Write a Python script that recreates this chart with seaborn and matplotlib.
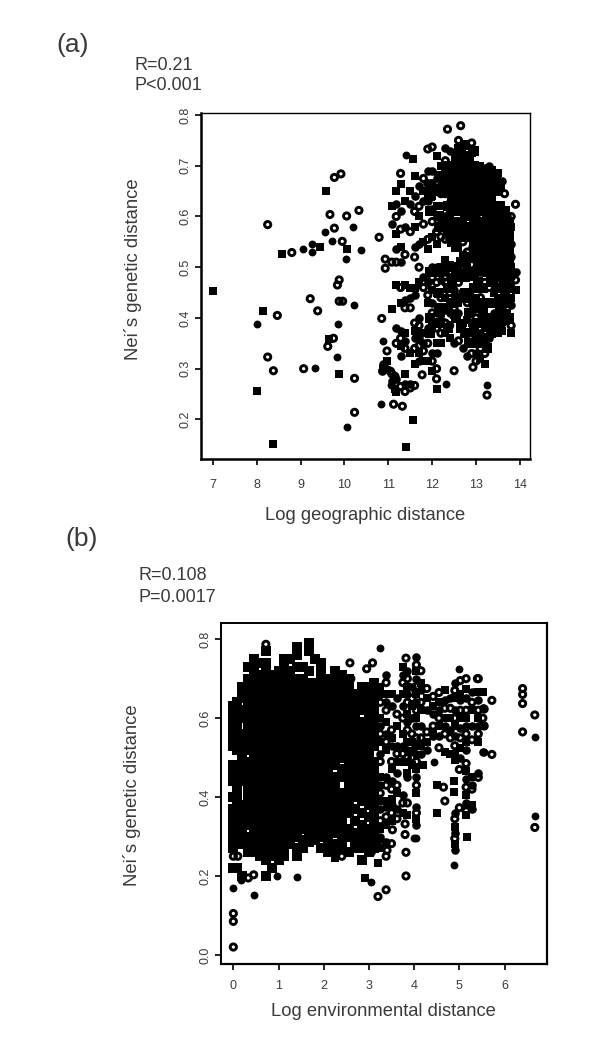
import matplotlib
matplotlib.use("Agg")
import matplotlib.pyplot as plt
import pandas as pd
import seaborn as sns

sns.set_style("white")
plt.rcParams["font.family"] = ["Liberation Sans", "DejaVu Sans"]

# ---------- panel (a): isolated points ----------
a_square_x = [7.0, 8.15, 8.0, 8.38, 8.57, 9.57, 9.87, 9.65, 11.57, 11.4, 11.57, 10.05, 9.45, 11.15, 12.1, 12.0]
a_square_y = [.454, .413, .257, .151, .526, .651, .289, .359, .199, .145, .713, .535, .540, .26, .26, .295]
a_solid_x = [8.0, 9.32, 9.05, 9.27, 9.27, 9.55, 9.72, 10.2, 10.37, 10.04, 9.85, 9.83, 10.21, 10.05, 10.83, 11.4, 12.32, 13.25, 10.87, 11.05]
a_solid_y = [.388, .302, .536, .545, .531, .570, .551, .579, .533, .517, .388, .324, .426, .185, .231, .722, .27, .268, .355, .268]
a_open_x = [8.25, 8.47, 8.25, 8.38, 8.8, 9.07, 9.22, 9.39, 9.62, 9.75, 9.84, 9.88, 9.88, 9.96, 9.77, 9.92, 9.67, 10.05, 10.33, 9.77, 9.95,
            10.23, 10.23, 10.79, 10.93, 10.93, 10.85, 11.12, 11.32, 13.25, 12.65, 12.35, 12.0, 11.9, 13.9, 13.65, 11.77, 12.93, 12.5, 12.1, 11.6, 11.05, 11.15]
a_open_y = [.584, .405, .323, .296, .529, .3, .438, .414, .344, .36, .465, .475, .433, .433, .677, .684, .604, .601, .612, .577, .551,
            .281, .214, .559, .516, .498, .399, .23, .226, .248, .779, .772, .737, .733, .624, .645, .288, .303, .296, .28, .267, .295, .285]

# ---------- panel (a): dense cloud, one list per x position ----------
a_col_x = [10.87, 10.97, 11.08, 11.18, 11.28, 11.38, 11.5, 11.6, 11.7, 11.8, 11.9, 12.0, 12.1, 12.2, 12.3, 12.4,
           12.5, 12.6, 12.7, 12.8, 12.9, 13.0, 13.1, 13.2, 13.3, 13.4, 13.5, 13.6, 13.7, 13.8, 13.9]
a_col_y = [
    [.30, .31, .295],
    [.315, .30, .335],
    [.62, .585, .51, .418, .275, .29],
    [.65, .625, .60, .565, .535, .51, .465, .38, .35, .255, .28],
    [.685, .665, .61, .575, .54, .51, .46, .43, .375, .36, .345, .325, .265],
    [.63, .58, .525, .465, .435, .42, .37, .355, .34, .29, .27, .255],
    [.65, .625, .57, .46, .44, .42, .33, .27, .262],
    [.68, .64, .61, .58, .54, .52, .46, .445, .39, .375, .36, .34, .31],
    [.66, .62, .60, .545, .50, .47, .40, .385, .37, .36, .345, .33, .315],
    [.675, .65, .63, .585, .55, .48, .46, .37, .35, .335, .315],
    [.69, .665, .645, .63, .555, .535, .47, .445, .43, .38, .35, .315],
    [.69, .665, .64, .615, .59, .56, .50, .48, .455, .43, .41, .385, .33, .315],
    [.72, .675, .655, .62, .60, .57, .545, .50, .47, .45, .41, .38, .35, .33, .30],
    [.70, .665, .645, .62, .59, .56, .50, .475, .44, .41, .395, .37, .35],
    [.735, .71, .69, .665, .645, .62, .60, .555, .515, .49, .47, .44, .415, .39, .37],
    [.73, .69, .67, .65, .625, .605, .58, .555, .505, .48, .45, .43, .41, .385, .36],
    [.70, .68, .655, .635, .61, .59, .565, .50, .48, .455, .42, .405, .35],
    [.75, .735, .71, .69, .67, .65, .63, .61, .59, .565, .54, .50, .47, .43, .41, .355],
    [.71, .69, .67, .65, .63, .61, .59, .57, .55, .525, .49, .45, .39, .34],
    [.73, .70, .68, .66, .64, .62, .60, .58, .56, .53, .505, .48, .43, .395, .325],
    [.745, .725, .66, .64, .62, .60, .58, .56, .54, .505, .48, .43, .41, .39, .37, .33],
    [.70, .68, .66, .64, .62, .60, .58, .56, .54, .52, .50, .46, .44, .42, .40, .36, .33, .315],
    [.70, .685, .66, .64, .62, .60, .58, .555, .53, .51, .49, .44, .42, .37, .34, .32],
    [.695, .67, .65, .63, .61, .59, .57, .55, .51, .49, .47, .38, .35, .33, .31],
    [.70, .675, .66, .63, .61, .59, .56, .53, .51, .49, .46, .39, .36],
    [.68, .66, .62, .60, .58, .56, .535, .515, .49, .47, .45, .41, .375],
    [.685, .65, .605, .585, .565, .54, .52, .495, .47, .44, .405, .385, .37],
    [.67, .60, .58, .56, .53, .51, .49, .465, .44, .42, .39, .375],
    [.60, .58, .56, .54, .52, .50, .47, .44, .41, .395],
    [.60, .58, .545, .52, .50, .48, .46, .44, .425, .385, .37],
    [.49, .475, .455],
]
# darkest part of the cloud (filled marks only)
a_core_x = [11.95, 12.15, 12.35, 12.45, 12.55, 12.65, 12.75, 12.85, 12.95, 13.05, 13.15, 13.25, 13.35, 13.45, 13.55, 13.65, 13.75]
a_core_y = [
    [.66, .64, .61, .49, .40, .37],
    [.68, .65, .60, .58, .49, .45, .42, .39],
    [.70, .68, .65, .62, .59, .57, .50, .46, .42, .38],
    [.70, .67, .64, .62, .59, .55, .50, .47, .43],
    [.72, .69, .66, .64, .61, .59, .57, .54, .49, .44, .40],
    [.73, .70, .68, .65, .63, .61, .58, .56, .51, .48, .44, .38],
    [.74, .72, .69, .67, .65, .62, .60, .58, .56, .52, .48, .45, .37],
    [.71, .69, .66, .64, .62, .60, .58, .56, .52, .49, .44, .41, .35],
    [.73, .70, .67, .65, .63, .61, .59, .57, .55, .53, .49, .46, .42, .38],
    [.69, .67, .65, .63, .61, .59, .57, .55, .53, .51, .47, .43, .39, .35],
    [.69, .67, .65, .63, .61, .59, .57, .55, .52, .50, .46, .41, .36],
    [.68, .66, .64, .62, .60, .58, .56, .53, .51, .49, .43, .39, .34],
    [.69, .67, .64, .62, .60, .58, .55, .52, .50, .47, .40, .37],
    [.67, .65, .61, .59, .57, .55, .53, .51, .48, .46, .43, .39],
    [.66, .62, .60, .58, .56, .53, .51, .49, .46, .42, .39],
    [.61, .59, .57, .55, .52, .50, .48, .45, .43, .40],
    [.59, .57, .55, .53, .51, .49, .46, .43, .40],
]

# ---------- panel (b): isolated points ----------
b_square_x = [2.25, 2.92, 3.2, 4.5, 4.5, 4.88, 4.88, 5.18, 4.2, 4.9, 3.8]
b_square_y = [.245, .196, .233, .36, .431, .44, .412, .298, .48, .495, .49]
b_solid_x = [.45, 1.4, 3.05, 3.25, .97, 4.88, 4.05, 6.67, 6.67, 5.0, 5.55, 4.45, .0, .18, 4.0]
b_solid_y = [.153, .197, .185, .777, .2, .228, .296, .553, .353, .725, .515, .49, .17, .19, .295]
b_open_x = [0, 0, 0, 0, .1, .33, .45, .72, 3.2, 3.38, 3.82, 3.82, 3.8, 3.8, 3.5, 3.52, 4.68, 4.65, 5.0, 5.0,
            5.72, 5.72, 5.55, 5.55, 6.4, 6.4, 6.4, 6.4, 6.67, 6.67, 2.95, 3.08, 3.82, 2.58, 2.6, 5.4, 2.4, 3.4, 3.3, 3.05]
b_open_y = [.02, .085, .105, .25, .25, .195, .203, .787, .148, .165, .2, .26, .305, .332, .282, .317, .39, .425, .373, .47,
            .508, .645, .623, .58, .565, .637, .66, .675, .608, .323, .725, .74, .752, .74, .7, .70, .25, .265, .285, .26]

b_col2_x = [3.25, 3.38, 3.5, 3.62, 3.75, 3.85, 3.95, 4.05, 4.15, 4.28, 4.42, 4.55, 4.68, 4.8, 4.9, 5.02, 5.15, 5.28, 5.42, 5.52]
b_col2_y = [
    [.68, .66, .64, .60, .58, .56, .54, .51, .49, .45, .43, .41, .39, .37, .34, .32, .30, .28, .27],
    [.71, .69, .66, .64, .62, .59, .56, .54, .52, .45, .43, .39, .375, .35, .33, .285, .25],
    [.66, .63, .57, .55, .53, .49, .47, .44, .42, .395, .38, .36, .34],
    [.65, .61, .58, .53, .51, .49, .46, .43, .41, .37, .345],
    [.73, .71, .69, .66, .63, .60, .56, .53, .51, .49, .405, .385, .36],
    [.72, .70, .68, .66, .64, .61, .59, .57, .54, .52, .50, .46, .45, .385, .355],
    [.68, .65, .63, .60, .56, .54, .52, .50, .48],
    [.755, .735, .72, .70, .68, .66, .64, .62, .60, .58, .55, .53, .51, .49, .47, .45, .43, .41, .375, .36, .345, .33],
    [.72, .69, .67, .64, .62, .58, .55, .53, .51],
    [.675, .65, .62, .565, .54, .52],
    [.655, .63, .61, .58, .565, .555],
    [.665, .64, .62, .60, .58, .555, .525],
    [.67, .645, .625, .60, .58, .56, .515],
    [.65, .625, .60, .57, .55, .51],
    [.69, .67, .65, .62, .60, .58, .555, .53, .51, .36, .345, .325, .31, .295, .28, .265],
    [.695, .66, .645, .62, .60, .575, .55, .525, .50],
    [.70, .675, .65, .62, .60, .58, .56, .54, .52, .485, .465, .445, .425, .405, .385, .365, .355],
    [.665, .64, .62, .58, .545, .45, .43, .42, .38, .37],
    [.70, .665, .645, .62, .60, .58, .56, .54, .46, .45],
    [.665, .625, .60, .58, .515],
]

# ---------- panel (b): solid cloud, one list per x position ----------
b_col_x = [0.0, 0.08, 0.2, 0.33, 0.45, 0.6, 0.72, 0.85, 1.0, 1.12, 1.25, 1.4, 1.55, 1.68, 1.8, 1.95, 2.1, 2.25, 2.4, 2.55, 2.7, 2.85, 3.0, 3.12]
b_col_y = [
    [.22, .27, .29, .31, .33, .35, .37, .40, .44, .46, .48, .53, .55, .57, .59, .61, .63],
    [.22, .28, .30, .32, .34, .37, .39, .41, .43, .45, .47, .52, .54, .56, .58, .60, .62, .64],
    [.20, .28, .30, .32, .34, .36, .38, .44, .46, .48, .50, .52, .54, .56, .60, .62, .65, .67, .68],
    [.26, .28, .30, .33, .35, .37, .39, .41, .43, .45, .47, .49, .52, .54, .56, .58, .60, .62, .64, .66, .68, .70, .73],
    [.26, .28, .30, .32, .34, .36, .38, .40, .42, .44, .46, .48, .50, .52, .54, .56, .58, .60, .62, .64, .66, .68, .70, .72, .74, .75],
    [.25, .27, .29, .31, .33, .35, .37, .39, .41, .43, .45, .47, .49, .51, .53, .55, .57, .59, .61, .63, .65, .67, .69, .71, .74],
    [.20, .24, .26, .28, .30, .32, .34, .36, .38, .40, .42, .44, .46, .48, .50, .52, .54, .56, .58, .60, .62, .64, .66, .68, .70, .72, .74, .77],
    [.22, .25, .27, .29, .31, .33, .35, .37, .39, .41, .43, .45, .47, .49, .51, .53, .55, .57, .59, .61, .63, .65, .67, .69, .71],
    [.24, .26, .28, .30, .32, .34, .36, .38, .40, .42, .44, .46, .48, .50, .52, .54, .56, .58, .60, .62, .64, .66, .68, .70, .72],
    [.25, .27, .29, .31, .33, .35, .37, .39, .41, .43, .45, .47, .49, .51, .53, .55, .57, .59, .61, .63, .65, .67, .69, .71, .73, .75],
    [.28, .30, .32, .34, .36, .38, .40, .42, .44, .46, .48, .50, .52, .54, .56, .58, .60, .62, .64, .66, .68, .70, .72, .75],
    [.25, .27, .30, .32, .34, .36, .38, .40, .42, .44, .46, .48, .50, .52, .54, .56, .58, .60, .62, .64, .66, .68, .70, .73, .76, .78],
    [.27, .29, .32, .34, .36, .38, .40, .42, .44, .46, .48, .50, .52, .54, .56, .58, .60, .62, .64, .66, .68, .70, .73],
    [.285, .31, .33, .35, .37, .39, .41, .43, .45, .47, .49, .51, .53, .55, .57, .59, .61, .63, .65, .67, .69, .72, .77, .79],
    [.29, .31, .33, .35, .37, .39, .41, .43, .45, .47, .49, .51, .53, .55, .57, .59, .61, .63, .65, .67, .69, .75],
    [.27, .30, .32, .34, .36, .38, .40, .42, .44, .46, .48, .50, .52, .54, .56, .58, .60, .62, .64, .66, .68, .70, .72, .74],
    [.26, .28, .30, .32, .34, .36, .38, .40, .42, .44, .46, .48, .50, .52, .54, .56, .58, .60, .62, .64, .66, .68, .70],
    [.26, .28, .31, .33, .35, .37, .39, .41, .43, .45, .48, .50, .52, .54, .56, .58, .60, .62, .64, .66, .68, .70, .72],
    [.27, .29, .31, .33, .35, .37, .39, .41, .45, .47, .50, .52, .54, .56, .58, .60, .62, .64, .66, .68, .69, .71],
    [.26, .30, .32, .36, .38, .40, .42, .44, .46, .48, .50, .52, .54, .56, .58, .60, .62, .64, .66, .68, .70],
    [.27, .29, .31, .34, .37, .40, .42, .44, .46, .48, .50, .52, .54, .56, .58, .60, .62, .64, .66],
    [.24, .27, .29, .31, .33, .36, .39, .41, .43, .45, .47, .49, .51, .53, .55, .57, .59, .62, .64, .66, .68],
    [.26, .28, .30, .32, .35, .38, .40, .42, .44, .46, .48, .50, .52, .54, .56, .58, .60, .62, .64, .66, .68],
    [.27, .29, .31, .33, .35, .37, .39, .41, .43, .45, .47, .49, .53, .55, .57, .59, .61, .63, .65, .67, .69],
]

a_xticks = [7, 8, 9, 10, 11, 12, 13, 14]
a_yticks = [.2, .3, .4, .5, .6, .7, .8]
b_xticks = [0, 1, 2, 3, 4, 5, 6]
b_yticks = [0, .2, .4, .6, .8]
a_yticklabels = ["0.2", "0.3", "0.4", "0.5", "0.6", "0.7", "0.8"]
b_yticklabels = ["0.0", "0.2", "0.4", "0.6", "0.8"]
x_label_a = "Log geographic distance"
x_label_b = "Log environmental distance"
y_label = "Nei´s genetic distance"

W, H = 600, 1060
TEXT = "#3a3a3a"
fig = plt.figure(figsize=(W / 100, H / 100), dpi=100, facecolor="white")


def rect(left, top, right, bottom):
    return [left / W, 1 - bottom / H, (right - left) / W, (bottom - top) / H]


def columns_to_frame(xs, ys):
    rows = [(x, y) for x, col in zip(xs, ys) for y in col]
    return pd.DataFrame(rows, columns=["x", "y"])


def open_marks(ax, x, y):
    sns.scatterplot(x=x, y=y, ax=ax, legend=False, marker="o", s=20,
                    facecolor="none", edgecolor="black", linewidth=2.1)


def draw(ax, squares, solids, opens, mixed, solid_cloud):
    kw = dict(ax=ax, legend=False, color="black", linewidth=0)
    open_marks(ax, mixed["x"].iloc[2::3].values, mixed["y"].iloc[2::3].values)
    sns.scatterplot(data=mixed.iloc[0::3], x="x", y="y", marker="s", s=38, **kw)
    sns.scatterplot(data=mixed.iloc[1::3], x="x", y="y", marker="o", s=38, **kw)
    sns.scatterplot(data=solid_cloud, x="x", y="y", marker="s", s=46, **kw)
    sns.scatterplot(x=squares[0], y=squares[1], marker="s", s=30, **kw)
    sns.scatterplot(x=solids[0], y=solids[1], marker="o", s=32, **kw)
    open_marks(ax, opens[0], opens[1])


def style(ax, xticks, yticks, ylabels, xlim, ylim, thick, xpad):
    ax.set_xlim(*xlim)
    ax.set_ylim(*ylim)
    ax.set_xticks(xticks)
    ax.set_xticklabels([str(t) for t in xticks])
    ax.set_yticks(yticks)
    ax.set_yticklabels(ylabels, rotation=90, va="center")
    ax.set_xlabel("")
    ax.set_ylabel("")
    ax.tick_params(axis="both", length=4, width=1.2, color="black", labelcolor=TEXT, labelsize=9, pad=3,
                   bottom=True, left=True)
    ax.tick_params(axis="x", pad=xpad)
    for name, spine in ax.spines.items():
        spine.set_visible(True)
        spine.set_color("black")
        spine.set_linewidth(thick.get(name, 1.0))


ax_a = fig.add_axes(rect(201, 113, 530, 459))
draw(ax_a, (a_square_x, a_square_y), (a_solid_x, a_solid_y), (a_open_x, a_open_y),
     columns_to_frame(a_col_x, a_col_y), columns_to_frame(a_core_x, a_core_y))
style(ax_a, a_xticks, a_yticks, a_yticklabels, (6.73, 14.23), (.122, .804),
      {"left": 1.8, "bottom": 1.8, "top": 1.0, "right": 1.0}, 10.5)

ax_b = fig.add_axes(rect(221, 623, 547, 964))
draw(ax_b, (b_square_x, b_square_y), (b_solid_x, b_solid_y), (b_open_x, b_open_y),
     columns_to_frame(b_col2_x, b_col2_y), columns_to_frame(b_col_x, b_col_y))
style(ax_b, b_xticks, b_yticks, b_yticklabels, (-.273, 6.94), (-.023, .841),
      {"left": 1.4, "bottom": 1.6, "top": 1.4, "right": 1.6}, 7.5)


def label(px, py, s, size=13, **kw):
    kw.setdefault("ha", "left")
    fig.text(px / W, 1 - py / H, s, fontsize=size, color=TEXT, va="center", **kw)


label(56, 45, "(a)", 19)
label(65, 539, "(b)", 19)
label(135, 65, "R=0.21")
label(135, 86, "P<0.001")
label(138, 575, "R=0.108")
label(138, 597, "P=0.0017")
label(133, 269, y_label, 13.3, rotation=90, ha="center")
label(132, 795, y_label, 13.3, rotation=90, ha="center")
label(365, 515, x_label_a, 13.2, ha="center")
label(383, 1012, x_label_b, 13.2, ha="center")

fig.savefig("out.png", dpi=100, facecolor="white")
